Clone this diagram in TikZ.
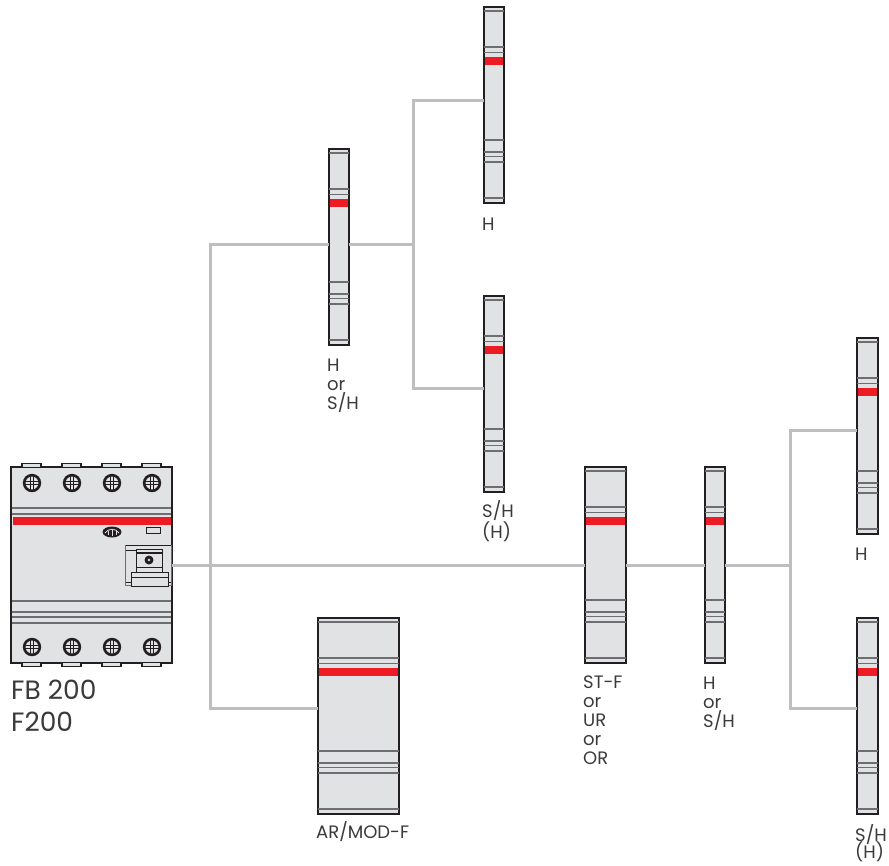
\documentclass[tikz,border=0pt]{standalone}
\usepackage{fontspec}
\setmainfont{Poppins}
\usepackage{tikz}
\usetikzlibrary{positioning,calc}
\definecolor{body}{HTML}{E1E2E4}
\definecolor{edge}{HTML}{231F20}
\definecolor{groove}{HTML}{6D6E71}
\definecolor{wire}{HTML}{BCBEC0}
\definecolor{band}{HTML}{ED1C24}
\definecolor{ink}{HTML}{3A3A3C}
\tikzset{
  modbox/.style={draw=edge,fill=body,line width=2pt,minimum height=196pt,inner sep=0pt,outer sep=0pt,anchor=north west},
  wireline/.style={draw=wire,line width=3pt},
  groovel/.style={draw=groove,line width=1.4pt},
  lab/.style={anchor=north west,align=left,inner sep=0pt,text=ink,font=\fontsize{18}{19}\selectfont},
  biglab/.style={anchor=north west,align=left,inner sep=0pt,text=ink,font=\fontsize{26.5}{32}\selectfont},
}
\begin{document}
\begin{tikzpicture}[x=1pt,y=-1pt]
  \useasboundingbox (0,0) rectangle (889,865);
  % din rail modules
  \foreach \n/\x/\y/\w in {mh/328.5/148.5/20.5,top/483.5/6.5/20,sh/483.5/295.5/20,ar/318/617.5/81,stf/585/466.5/40.5,hs/705/466.5/19.5,up/857/337.5/20.5,lo/857/617.5/20.5} {
    \node[modbox,minimum width=\w pt] (\n) at (\x,\y) {};
    \foreach \d in {4.5,40.5,46,133.5,145.5,150,155.5,191.5}
      \draw[groovel] (\x,\y+\d) -- ++(\w,0);
    \fill[band] (\x+1,\y+50.3) rectangle ++(\w-2,8);
  }
  % main device
  \node[draw=edge,fill=body,line width=2pt,minimum width=161pt,minimum height=196pt,inner sep=0pt,outer sep=0pt,anchor=north west] (fb) at (11,467) {};
  \foreach \s in {0,1,2,3} {
    \draw[edge,line width=1.4pt,fill=body] (22+\s*40,467) -- ++(0,-3.5) -- ++(19,0) -- ++(0,3.5);
    \draw[edge,line width=1.4pt,fill=body] (22+\s*40,663) -- ++(0,3.5) -- ++(19,0) -- ++(0,-3.5);
    \foreach \y in {483,647} {
      \fill[edge] (32+\s*40,\y) circle (9.2);
      \fill[body] (32+\s*40,\y) circle (6.4);
      \draw[edge,line width=0.9pt] (32+\s*40-7,\y-1.5) -- ++(14,0) (32+\s*40-7,\y+1.5) -- ++(14,0) (32+\s*40-1.5,\y-7) -- ++(0,14) (32+\s*40+1.5,\y-7) -- ++(0,14);
    }
  }
  \foreach \y in {508,514,601,612,617,623}
    \draw[groovel] (12,\y) -- (171,\y);
  \fill[band] (13,517) rectangle (171,525);
  \draw[edge,line width=0.7pt] (146,527) rectangle (160,533);
  \fill[edge] (112,532) ellipse (9.5 and 5.5);
  \draw[body,line width=0.8pt] (105,533) .. controls (108,528) and (116,528) .. (119,533);
  \draw[body,line width=0.8pt] (112,530) -- (112,536) (108,531) -- (108,535) (116,531) -- (116,535);
  \draw[groove,line width=1pt] (125.5,545) rectangle (171,585);
  \draw[edge,line width=0.9pt] (125.5,545) -- (171,545) (125.5,550) -- (136,550) (125.5,582) -- (131,582) (168,582) -- (171,582);
  \draw[edge,line width=0.9pt] (136,549) -- (136,572) (162,549) -- (162,572) (136,549) -- (162,549);
  \draw[edge,line width=1.6pt] (136,553) -- (162,553);
  \fill[edge] (149,560) circle (4.5);
  \fill[body] (149,560) circle (1.4);
  \draw[edge,line width=0.9pt] (136,567) -- (162,567);
  \draw[edge,line width=0.9pt,fill=body] (131,586) -- (131,572) -- (168,572) -- (168,586) -- cycle;
  \draw[edge,line width=0.9pt] (131,577) -- (168,577);
  % wiring
  \coordinate (j1) at (210,565);
  \coordinate (j2) at (413,244);
  \coordinate (j3) at (790,565);
  \draw[wireline] (fb.east |- j1) -- (stf.west |- j1);
  \draw[wireline] (stf.east |- j1) -- (hs.west |- j1);
  \draw[wireline] (hs.east |- j1) -- (j3);
  \draw[wireline] (j1) |- (mh.west |- j2);
  \draw[wireline] (j1) -- (210,708) -- (ar.west |- 0,708);
  \draw[wireline] (mh.east |- j2) -- (j2);
  \draw[wireline] (j2) -- (413,100) -- (top.west |- 0,100);
  \draw[wireline] (j2) -- (413,388) -- (sh.west |- 0,388);
  \draw[wireline] (j3) -- (790,430) -- (up.west |- 0,430);
  \draw[wireline] (j3) -- (790,708) -- (lo.west |- 0,708);
  % labels
  \node[biglab] (fblab) at (11,680) {FB 200\\F200};
  \node[lab] (mhlab) at (327,358.5) {H\\or\\S/H};
  \node[lab] (toplab) at (482,218) {H};
  \node[lab] (shlab) at (482,500) {S/H\\(H)};
  \node[lab] (arlab) at (316,821) {AR/MOD-F};
  \node[lab] (stflab) at (583,676) {ST-F\\or\\UR\\or\\OR};
  \node[lab] (hslab) at (703,677) {H\\or\\S/H};
  \node[lab] (uplab) at (855,548) {H};
  \node[lab] (lolab) at (855,824.5) {S/H\\[-4pt](H)};
\end{tikzpicture}
\end{document}
